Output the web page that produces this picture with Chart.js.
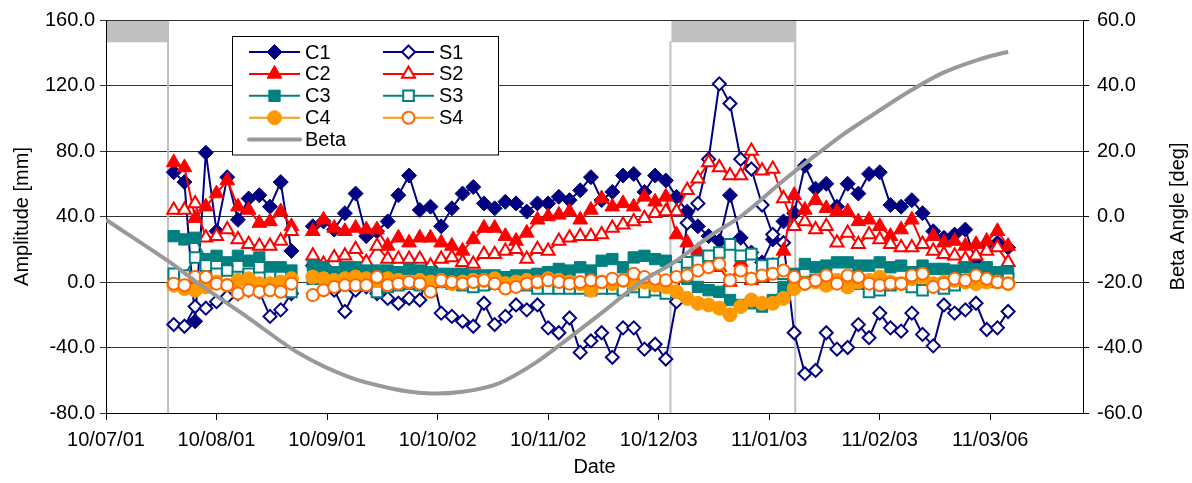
<!DOCTYPE html>
<html>
<head>
<meta charset="utf-8">
<script src="https://cdn.jsdelivr.net/npm/chart.js"></script>
<style>
  body { margin: 0; background: #fff; }
</style>
</head>
<body>
<canvas id="myChart" width="1192" height="483"></canvas>
<script>
// x values are days since 2010-07-01
const days = [19,22,25,28,31,34,37,40,43,46,49,52,55,58,61,64,67,70,73,76,79,82,85,88,91,94,97,100,103,106,109,112,
  115,118,121,124,127,130,133,136,139,142,145,148,151,154,157,160,163,166,169,172,175,178,181,184,187,190,193,
  196,199,202,205,208,211,214,217,220,223,226,229,232,235,238,241,244,247,250,253]

const c1 = [67,61,-24,79,31,64,38,51,53,46,61,19,null,34,37,32,42,54,28,31,37,53,65,44,46,34,45,54,58,48,45,49,
  48,43,48,48,52,50,56,64,50,55,65,66,55,65,62,52,43,34,28,25,53,27,18,12,26,37,42,
  71,57,60,46,60,54,66,67,47,46,50,42,31,27,29,32,12,23,24,21]
const s1 = [-26,-27,-15,-16,-12,-9,-7,-5,-6,-21,-17,-7,null,10,10,-5,-18,-5,-3,-7,-10,-13,-10,-11,9,-19,-21,-24,-27,-13,-26,-21,
  -14,-17,-14,-28,-31,-22,-43,-36,-31,-46,-28,-28,-41,-38,-47,-12,36,48,75,121,109,75,69,47,29,24,-31,
  -56,-54,-31,-41,-40,-26,-34,-19,-28,-30,-19,-32,-39,-14,-19,-17,-13,-29,-28,-18]
const c2 = [73,70,39,46,54,62,46,44,36,37,43,34,null,31,38,33,31,33,32,32,22,27,24,27,27,24,22,19,26,33,33,28,
  25,30,38,40,41,43,38,44,51,46,48,46,52,49,52,29,24,19,14,9,0,12,1,3,10,19,53,
  44,50,45,43,43,37,38,34,28,32,38,23,28,24,25,22,23,25,31,22]
const s2 = [44,44,48,27,28,32,26,23,22,22,25,31,null,16,11,15,16,20,12,22,14,14,14,14,10,14,15,12,11,17,17,19,
  20,14,20,19,25,27,28,28,29,33,35,37,39,42,43,43,56,63,73,70,65,65,80,68,69,51,34,
  37,32,34,24,30,23,29,26,23,21,21,23,19,17,16,14,16,19,21,12]
const c3 = [28,26,27,14,16,12,16,13,15,9,9,7,null,10,9,6,9,9,7,7,7,6,8,7,6,5,5,5,4,4,4,3,
  4,4,5,6,8,7,9,7,13,14,9,15,16,14,13,7,2,-3,-5,-6,-11,-14,-13,-15,-11,-3,5,
  11,9,10,12,12,10,10,12,9,10,6,10,8,8,7,9,8,9,6,6]
const s3 = [5,4,15,10,5,7,3,5,9,3,3,-6,null,2,3,0,-1,0,-2,-6,-3,-2,-1,-2,-1,0,-1,-2,-3,-2,-1,0,
  1,-2,-4,-4,-4,-4,-4,-5,-4,-4,-5,-3,-6,-5,-7,9,12,13,16,18,23,16,17,10,11,5,2,
  0,1,-1,0,-2,-1,-6,-5,-2,-1,-3,-5,-2,-4,-2,1,0,2,0,2]
const c4 = [-2,-4,-5,-3,0,-2,1,2,-1,-1,0,2,null,3,2,1,2,3,2,1,2,1,0,1,0,1,-1,0,1,1,2,-1,
  0,1,0,2,1,0,-1,-5,0,-1,1,-1,0,-2,-3,-6,-10,-13,-14,-16,-20,-15,-11,-13,-13,-10,-4,
  -1,0,-2,1,-3,0,1,3,0,-1,2,3,-1,0,1,0,-1,0,0,-1]
const s4 = [-1,-2,3,3,-1,-2,-7,-5,-6,-5,-6,-1,null,-8,-5,-3,-2,-2,-2,3,-2,-1,0,-1,-6,1,0,-1,0,1,-1,-4,
  -3,-1,0,1,0,-1,0,1,0,2,1,5,3,2,1,3,4,7,9,11,1,7,2,4,5,7,3,
  -1,1,4,-1,4,3,-1,-2,-1,-1,4,5,-3,-1,2,1,4,2,0,-1]

const betaDays = [0,18,26,40,54,68,80,90,100,110,120,130,140,150,160,170,178,190,197,206,215,225,235,245,253]
const beta = [-1,-14,-20.5,-31,-41.7,-49,-52.5,-54,-53.5,-51,-45,-37,-28.6,-20,-13.5,-5.5,0,11,17,24.5,31,38,44,48,50.3]

const tickDays = [0,31,62,93,124,155,186,217,248]
const tickLabels = ["10/07/01","10/08/01","10/09/01","10/10/02","10/11/02","10/12/03","11/01/03","11/02/03","11/03/06"]

// eclipse seasons [start, end] in days
const eclipses = [[0, 17.4], [158.3, 193.3]]

const NAVY = "#000080", RED = "#FF0000", TEAL = "#008080", ORANGE = "#FF9900", ORANGE2 = "#FF6600", GREY = "#999999"
const FONT = "'Liberation Sans', Arial, sans-serif"

function pts(vals) {
    return days.map((d, i) => ({x: d, y: vals[i]}))
}

function series(label, vals, color, style, radius, filled, order, pointBorder) {
    return {
        label: label,
        data: pts(vals),
        borderColor: color,
        backgroundColor: color,
        borderWidth: 2,
        pointStyle: style,
        pointRadius: radius,
        pointBackgroundColor: filled ? color : "#FFFFFF",
        pointBorderColor: pointBorder || color,
        pointBorderWidth: filled ? 1 : 2,
        tension: 0,
        spanGaps: false,
        yAxisID: "y",
        order: order
    }
}

const datasets = [
    series("C1", c1, NAVY, "rectRot", 7.5, true, 9),
    series("S1", s1, NAVY, "rectRot", 6.5, false, 8),
    series("C2", c2, RED, "triangle", 8.5, true, 7),
    series("S2", s2, RED, "triangle", 7.5, false, 6),
    series("C3", c3, TEAL, "rect", 8, true, 5),
    series("S3", s3, TEAL, "rect", 7.5, false, 4),
    series("C4", c4, ORANGE, "circle", 7, true, 3),
    series("S4", s4, ORANGE, "circle", 6, false, 2, ORANGE2),
    {
        label: "Beta",
        data: betaDays.map((d, i) => ({x: d, y: beta[i]})),
        borderColor: GREY,
        backgroundColor: GREY,
        borderWidth: 4,
        pointRadius: 0,
        tension: 0.3,
        yAxisID: "y2",
        order: 0
    }
]

function drawMarker(ctx, style, x, y, r, fill, stroke, bw) {
    ctx.beginPath()
    if (style === "rectRot") {
        ctx.moveTo(x, y - r); ctx.lineTo(x + r, y); ctx.lineTo(x, y + r); ctx.lineTo(x - r, y)
        ctx.closePath()
    } else if (style === "triangle") {
        ctx.moveTo(x, y - r); ctx.lineTo(x + 0.866 * r, y + 0.5 * r); ctx.lineTo(x - 0.866 * r, y + 0.5 * r)
        ctx.closePath()
    } else if (style === "rect") {
        const s = r * Math.SQRT1_2
        ctx.rect(x - s, y - s, 2 * s, 2 * s)
    } else {
        ctx.arc(x, y, r, 0, Math.PI * 2)
    }
    ctx.fillStyle = fill
    ctx.fill()
    ctx.lineWidth = bw
    ctx.strokeStyle = stroke
    ctx.stroke()
}

const eclipsePlugin = {
    id: "eclipse",
    beforeDatasetsDraw(chart) {
        const ctx = chart.ctx
        const xs = chart.scales.x, ys = chart.scales.y
        const top = ys.getPixelForValue(160), barBottom = ys.getPixelForValue(147), bottom = ys.getPixelForValue(-80)
        ctx.save()
        ctx.fillStyle = "#C0C0C0"
        ctx.strokeStyle = "#C0C0C0"
        ctx.lineWidth = 2
        eclipses.forEach(([a, b]) => {
            const xa = xs.getPixelForValue(a), xb = xs.getPixelForValue(b)
            ctx.fillRect(xa + 1, top + 1, xb - xa, barBottom - top)
            ;[a, b].forEach((v) => {
                if (v <= 0) return
                const px = xs.getPixelForValue(v)
                ctx.beginPath()
                ctx.moveTo(px, barBottom)
                ctx.lineTo(px, bottom)
                ctx.stroke()
            })
        })
        ctx.restore()
    }
}

const legendPlugin = {
    id: "boxLegend",
    afterDraw(chart) {
        const ctx = chart.ctx
        const box = {x: 232.5, y: 36.5, w: 266, h: 118.5}
        ctx.save()
        ctx.fillStyle = "#FFFFFF"
        ctx.fillRect(box.x, box.y, box.w, box.h)
        ctx.strokeStyle = "#000000"
        ctx.lineWidth = 1
        ctx.strokeRect(box.x, box.y, box.w, box.h)
        const cols = [[0, 2, 4, 6, 8], [1, 3, 5, 7]]
        const colX = [249, 383]
        ctx.font = "20px " + FONT
        ctx.textBaseline = "middle"
        cols.forEach((col, ci) => {
            col.forEach((di, ri) => {
                const ds = chart.data.datasets[di]
                const y = 52 + ri * 21.9
                const x0 = colX[ci], x1 = x0 + 51
                ctx.beginPath()
                ctx.moveTo(x0, y)
                ctx.lineTo(x1, y)
                ctx.strokeStyle = ds.borderColor
                ctx.lineWidth = ds.borderWidth
                ctx.lineCap = ds.label === "Beta" ? "round" : "butt"
                ctx.stroke()
                if (ds.pointRadius > 0) {
                    drawMarker(ctx, ds.pointStyle, (x0 + x1) / 2, y, ds.pointRadius,
                        ds.pointBackgroundColor, ds.pointBorderColor, ds.pointBorderWidth)
                }
                ctx.fillStyle = "#000000"
                ctx.fillText(ds.label, x1 + 5, y + 1)
            })
        })
        // right axis title, reading bottom to top like the left one
        const area = chart.chartArea
        ctx.translate(1178, (area.top + area.bottom) / 2)
        ctx.rotate(-Math.PI / 2)
        ctx.textAlign = "center"
        ctx.fillText("Beta Angle [deg]", 0, 0)
        ctx.restore()
    }
}

Chart.defaults.font.family = FONT
Chart.defaults.font.size = 20
Chart.defaults.color = "#000000"

const ctx = document.getElementById("myChart")
const chart = new Chart(ctx, {
    type: "line",
    data: {datasets: datasets},
    plugins: [eclipsePlugin, legendPlugin],
    options: {
        responsive: false,
        devicePixelRatio: 1,
        animation: false,
        layout: {padding: {top: 18, left: 0, right: 0, bottom: 0}},
        plugins: {
            legend: {display: false},
            tooltip: {enabled: false}
        },
        scales: {
            x: {
                type: "linear",
                min: 0,
                max: 274,
                afterBuildTicks: (scale) => {
                    scale.ticks = tickDays.map((v) => ({value: v}))
                },
                afterFit: (scale) => { scale.height = 70 },
                ticks: {
                    callback: (v) => tickLabels[tickDays.indexOf(v)],
                    maxRotation: 0,
                    autoSkip: false,
                    padding: 8,
                    font: {size: 20}
                },
                grid: {drawOnChartArea: false, drawTicks: true, tickLength: 7, color: "#000000"},
                border: {display: true, color: "#000000", width: 1},
                title: {display: true, text: "Date", font: {size: 20}, padding: {top: 0, bottom: 4}}
            },
            y: {
                position: "left",
                min: -80,
                max: 160,
                afterFit: (scale) => { scale.width = 106 },
                ticks: {stepSize: 40, callback: (v) => v.toFixed(1), padding: 5, font: {size: 20}},
                grid: {color: "#333333", lineWidth: 1, tickLength: 6},
                border: {display: true, color: "#000000", width: 1},
                title: {display: true, text: "Amplitude [mm]", font: {size: 20}, padding: {top: 10, bottom: 0}}
            },
            y2: {
                position: "right",
                min: -60,
                max: 60,
                afterFit: (scale) => { scale.width = 109 },
                ticks: {stepSize: 20, callback: (v) => v.toFixed(1), padding: 8, font: {size: 20}},
                grid: {drawOnChartArea: false, color: "#000000", tickLength: 6},
                border: {display: true, color: "#000000", width: 1},
                title: {display: false}
            }
        }
    }
})
</script>
</body>
</html>
